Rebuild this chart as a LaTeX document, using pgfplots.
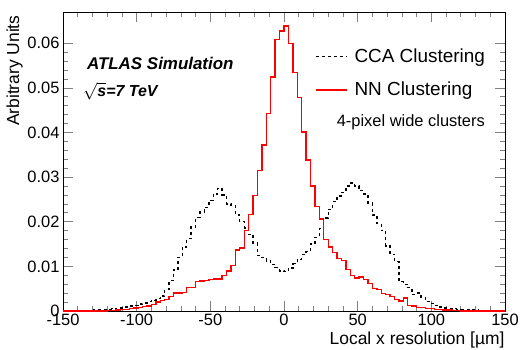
\documentclass[border=0pt]{standalone}
\usepackage{fontspec}
\setmainfont{Liberation Sans}
\usepackage{pgfplots}
\pgfplotsset{compat=1.18}
\usepackage{pgfplotstable}
\pgfplotstableread{
x y
-150 0
-147 0
-144 0
-141 0
-138 0
-135 0.0001
-132 0.0001
-129 0.0002
-126 0.0002
-123 0.0003
-120 0.0004
-117 0.0005
-114 0.0006
-111 0.0007
-108 0.0009
-105 0.0011
-102 0.0013
-99 0.0016
-96 0.0018
-93 0.0021
-90 0.0024
-87 0.0028
-84 0.0034
-81 0.0048
-78 0.0068
-75 0.0092
-72 0.0120
-69 0.0143
-66 0.0162
-63 0.0188
-60 0.0210
-57 0.0222
-54 0.0232
-51 0.0248
-48 0.0262
-45 0.0275
-42 0.0260
-39 0.0240
-36 0.0237
-33 0.0215
-30 0.0200
-27 0.0186
-24 0.0172
-21 0.0152
-18 0.0124
-15 0.0120
-12 0.0112
-9 0.0104
-6 0.0097
-3 0.0090
0 0.0088
3 0.0096
6 0.0106
9 0.0116
12 0.0126
15 0.0133
18 0.0150
21 0.0165
24 0.0185
27 0.0208
30 0.0228
33 0.0245
36 0.0258
39 0.0266
42 0.0280
45 0.0287
48 0.0280
51 0.0270
54 0.0262
57 0.0242
60 0.0215
63 0.0196
66 0.0180
69 0.0146
72 0.0127
75 0.0111
78 0.0066
81 0.0060
84 0.0052
87 0.0037
90 0.0040
93 0.0030
96 0.0021
99 0.0017
102 0.0012
105 0.0009
108 0.0007
111 0.0006
114 0.0005
117 0.0004
120 0.0003
123 0.0003
126 0.0002
129 0.0002
132 0.0001
135 0.0001
138 0.0001
141 0
144 0
147 0
150 0
}\cca
\pgfplotstableread{
x y
-150 0
-147 0
-144 0
-141 0
-138 0
-135 0
-132 0
-129 0
-126 0
-123 0
-120 0.0001
-117 0.0001
-114 0.0002
-111 0.0003
-108 0.0004
-105 0.0005
-102 0.0007
-99 0.0008
-96 0.0010
-93 0.0011
-90 0.0014
-87 0.0020
-84 0.0024
-81 0.0026
-78 0.0033
-75 0.0040
-72 0.0040
-69 0.0042
-66 0.0052
-63 0.0053
-60 0.0066
-57 0.0067
-54 0.0069
-51 0.0071
-48 0.0072
-45 0.0072
-42 0.0080
-39 0.0090
-36 0.0102
-33 0.0137
-30 0.0141
-27 0.0181
-24 0.0216
-21 0.0259
-18 0.0315
-15 0.0372
-12 0.0442
-9 0.0524
-6 0.0609
-3 0.0627
0 0.0639
3 0.0600
6 0.0535
9 0.0479
12 0.0401
15 0.0338
18 0.0280
21 0.0234
24 0.0206
27 0.0160
30 0.0143
33 0.0131
36 0.0117
39 0.0113
42 0.0093
45 0.0079
48 0.0074
51 0.0076
54 0.0070
57 0.0061
60 0.0050
63 0.0048
66 0.0039
69 0.0037
72 0.0032
75 0.0026
78 0.0022
81 0.0029
84 0.0012
87 0.0011
90 0.0008
93 0.0008
96 0.0005
99 0.0005
102 0.0003
105 0.0003
108 0.0002
111 0.0002
114 0.0001
117 0.0001
120 0
123 0
126 0
129 0
132 0
135 0
138 0
141 0
144 0
147 0
150 0
}\nn
\begin{document}
\begin{tikzpicture}
\useasboundingbox (-63bp,-39bp) rectangle (457bp,311bp);
\begin{axis}[
  at={(0,0)}, anchor=south west,
  scale only axis, width=442bp, height=299bp,
  xmin=-150, xmax=150, ymin=0, ymax=0.067,
  xtick={-150,-100,...,150},
  ytick={0,0.01,0.02,0.03,0.04,0.05,0.06},
  minor x tick num=4, minor y tick num=4,
  tick align=inside,
  major tick length=10bp, minor tick length=5bp,
  xtick pos=both, ytick pos=both,
  scaled y ticks=false,
  yticklabel style={/pgf/number format/fixed, /pgf/number format/precision=2},
  /pgf/number format/assume math mode=true,
  tick label style={font=\fontsize{16.5}{18}\selectfont},
  axis line style={line width=0.9pt},
  tick style={line width=0.7pt},
  xlabel={Local x resolution [µm]},
  ylabel={Arbitrary Units},
  label style={font=\fontsize{17.5}{19}\selectfont},
  xlabel style={at={(axis description cs:1,0)}, anchor=north east, yshift=-17bp, xshift=3bp},
  ylabel style={at={(axis description cs:-0.083,1)}, anchor=south east},
  legend style={draw=none, fill=none, at={(axis description cs:0.57,0.89)}, anchor=north west,
    font=\fontsize{19}{20}\selectfont, row sep=14bp, cells={anchor=west}, inner xsep=0pt},
  legend image code/.code={\draw[#1] (0bp,0bp) -- (31bp,0bp); \path (36bp,0bp);},
  clip=false,
]
\addplot[draw=black, line width=1.4pt, dash pattern=on 3bp off 3bp, const plot] table[x=x,y=y]{\cca};
\addlegendentry{CCA Clustering}
\addplot[draw=red, line width=1.4pt, const plot] table[x=x,y=y]{\nn};
\addlegendentry{NN Clustering}
\node[anchor=west, inner sep=0pt, font=\fontsize{16.5}{18}\selectfont] at (axis description cs:0.619,0.632) {4-pixel wide clusters};
\node[anchor=west, inner sep=0pt, font=\fontsize{17}{18}\bfseries\itshape\selectfont] at (axis description cs:0.054,0.828) {ATLAS Simulation};
\node[anchor=west, inner sep=0pt, font=\fontsize{16}{18}\bfseries\itshape\selectfont] at (axis description cs:0.045,0.735) {$\sqrt{\mbox{\bfseries\itshape s}}$=7 TeV};
\end{axis}
\end{tikzpicture}
\end{document}
